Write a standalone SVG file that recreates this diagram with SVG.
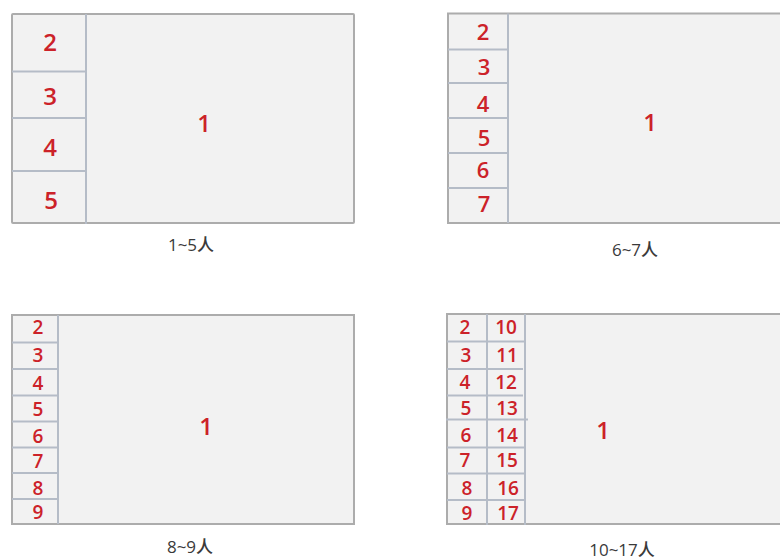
<svg xmlns="http://www.w3.org/2000/svg" width="780" height="560" viewBox="0 0 780 560">
<style>
.frame{fill:#f2f2f2;stroke:#acacac;stroke-width:2}
.div{stroke:#b5bcc7;stroke-width:2;fill:none}
.n{font-family:"Open Sans","Noto Sans",sans-serif;fill:#cc2229;text-anchor:middle;font-weight:600}
.cap{font-family:"Open Sans","Noto Sans CJK SC",sans-serif;fill:#3a3a3a;font-size:17px;text-anchor:middle;font-weight:500}
</style>
<rect width="780" height="560" fill="#ffffff"/>
<g id="layout-1-5">
<rect class="frame" x="12" y="14" width="342" height="209" rx="1"/>
<path class="div" d="M86 14V224M12 71.5H86M12 118H86M12 171H86"/>
<g class="n" font-size="24">
<text x="50" y="51">2</text>
<text x="50" y="105">3</text>
<text x="50" y="156">4</text>
<text x="51" y="209">5</text>
<text x="204" y="132">1</text>
</g>
<text class="cap" x="191" y="251">1~5人</text>
</g>
<g id="layout-6-7">
<rect class="frame" x="448" y="13.5" width="345" height="209.5"/>
<path class="div" d="M508 13.5V223M448 49.5H508M448 83H508M448 118H509M448 153H509M448 188H509"/>
<g class="n" font-size="22">
<text x="483" y="40">2</text>
<text x="484" y="75">3</text>
<text x="483" y="112">4</text>
<text x="484" y="146">5</text>
<text x="483" y="178">6</text>
<text x="484" y="212">7</text>
<text x="650" y="131" font-size="24">1</text>
</g>
<text class="cap" x="635" y="256">6~7人</text>
</g>
<g id="layout-8-9">
<rect class="frame" x="12" y="315" width="342" height="209"/>
<path class="div" d="M58 315V524M12 342.5H58M12 369H58M12 395.5H58M12 421.5H58M12 447.5H58M12 473H58M12 499H58"/>
<g class="n" font-size="19">
<text x="38" y="334">2</text>
<text x="38" y="362">3</text>
<text x="38" y="390">4</text>
<text x="38" y="416">5</text>
<text x="38" y="443">6</text>
<text x="38" y="468">7</text>
<text x="38" y="495">8</text>
<text x="38" y="519">9</text>
<text x="206" y="435" font-size="24">1</text>
</g>
<text class="cap" x="190" y="553">8~9人</text>
</g>
<g id="layout-10-17">
<rect class="frame" x="447" y="314" width="346" height="210"/>
<path class="div" d="M487 314V525M525 314V525M447 341.5H525M447 369H523M447 395.5H523M446 419.5H528M447 447.5H525M447 473.5H525M447 500H525"/>
<g class="n" font-size="19">
<text x="465" y="334">2</text>
<text x="466" y="362">3</text>
<text x="465" y="389">4</text>
<text x="466" y="415">5</text>
<text x="466" y="442">6</text>
<text x="465" y="467">7</text>
<text x="467" y="495">8</text>
<text x="467" y="520">9</text>
<text x="506" y="334">10</text>
<text x="507" y="362">11</text>
<text x="506" y="389">12</text>
<text x="507" y="415">13</text>
<text x="507" y="442">14</text>
<text x="507" y="467">15</text>
<text x="508" y="495">16</text>
<text x="508" y="520">17</text>
<text x="603" y="439" font-size="24">1</text>
</g>
<text class="cap" x="622" y="556">10~17人</text>
</g>
</svg>
